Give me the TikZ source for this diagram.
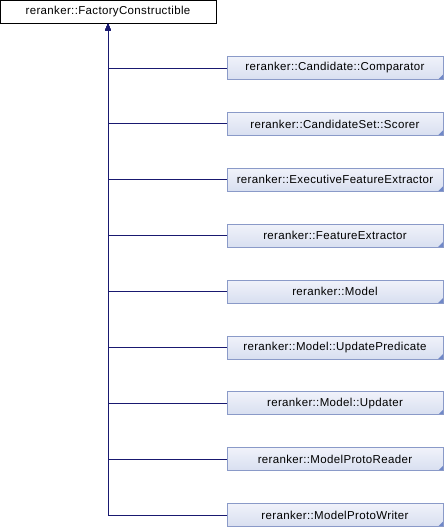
\documentclass[tikz,border=0pt]{standalone}
\usepackage{fontspec}
\setmainfont[LetterSpace=3]{Liberation Sans}
\usepackage{tikz}
\usetikzlibrary{arrows.meta,positioning}

\definecolor{edgeblue}{HTML}{191970}
\definecolor{boxline}{HTML}{8A9AC8}
\definecolor{boxtop}{HTML}{F0F2FA}
\definecolor{boxbot}{HTML}{D8DFF0}
\definecolor{cornerblue}{HTML}{7088C8}

\begin{document}
\begin{tikzpicture}[
        x=1pt, y=1pt,
        font=\fontsize{11.5}{13}\selectfont,
        base/.style={
            rectangle,
            draw=black,
            line width=0.9pt,
            fill=white,
            minimum width=216pt,
            minimum height=23pt,
            inner sep=0pt
        },
        derived/.style={
            rectangle,
            draw=boxline,
            line width=0.9pt,
            top color=boxtop,
            bottom color=boxbot,
            minimum width=216pt,
            minimum height=23pt,
            inner sep=0pt,
            path picture={
                \fill[cornerblue] (path picture bounding box.south east)
                    -- ++(-5,0) -- ++(5,5) -- cycle;
            }
        },
        link/.style={
            draw=edgeblue,
            line width=1pt,
            -{Triangle[length=7pt,width=5.5pt]}
        }
    ]
    \useasboundingbox (0,0) rectangle (444,-528);
    % Base class
    \node[base] (fc) at (108,-11.5) {reranker::FactoryConstructible};
    % Derived classes
    \node[derived] (cmp) at (335,-68) {reranker::Candidate::Comparator};
    \node[derived, below=32pt of cmp] (scorer) {reranker::CandidateSet::Scorer};
    \node[derived, below=32pt of scorer] (exfe) {reranker::ExecutiveFeatureExtractor};
    \node[derived, below=32pt of exfe] (fe) {reranker::FeatureExtractor};
    \node[derived, below=32pt of fe] (model) {reranker::Model};
    \node[derived, below=32pt of model] (pred) {reranker::Model::UpdatePredicate};
    \node[derived, below=32pt of pred] (upd) {reranker::Model::Updater};
    \node[derived, below=32pt of upd] (reader) {reranker::ModelProtoReader};
    \node[derived, below=32pt of reader] (writer) {reranker::ModelProtoWriter};
    % Inheritance links
    \draw[link] (cmp.west) -| (fc.south);
    \draw[link] (scorer.west) -| (fc.south);
    \draw[link] (exfe.west) -| (fc.south);
    \draw[link] (fe.west) -| (fc.south);
    \draw[link] (model.west) -| (fc.south);
    \draw[link] (pred.west) -| (fc.south);
    \draw[link] (upd.west) -| (fc.south);
    \draw[link] (reader.west) -| (fc.south);
    \draw[link] (writer.west) -| (fc.south);
\end{tikzpicture}
\end{document}
